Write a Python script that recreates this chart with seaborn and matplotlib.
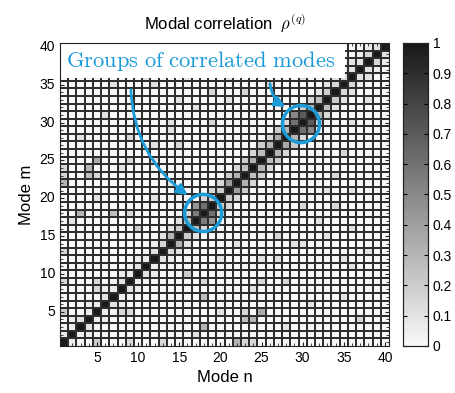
import numpy as np
import matplotlib
matplotlib.use("Agg")
import matplotlib.pyplot as plt
from matplotlib.colors import ListedColormap
from matplotlib.patches import Ellipse, Rectangle
import seaborn as sns

plt.rcParams['font.family'] = ['Liberation Sans', 'DejaVu Sans']
plt.rcParams['mathtext.fontset'] = 'cm'

# modes 1..40
n_modes = 40
diag_vals = [1.0] * n_modes

# correlation between neighbouring modes (k, k+1), k = 1..39
band1 = [0.05, 0.05, 0.10, 0.05, 0.05, 0.10, 0.05, 0.10, 0.05, 0.10,
         0.05, 0.10, 0.15, 0.30, 0.20, 0.25, 0.55, 0.60, 0.20, 0.20,
         0.40, 0.30, 0.25, 0.30, 0.25, 0.30, 0.35, 0.30, 0.60, 0.70,
         0.30, 0.25, 0.20, 0.15, 0.15, 0.10, 0.10, 0.15, 0.10]
# correlation (k, k+2), k = 1..38
band2 = [0.02, 0.05, 0.02, 0.05, 0.02, 0.05, 0.02, 0.05, 0.02, 0.05,
         0.02, 0.05, 0.10, 0.10, 0.10, 0.15, 0.45, 0.15, 0.15, 0.15,
         0.20, 0.15, 0.20, 0.15, 0.20, 0.15, 0.20, 0.15, 0.50, 0.20,
         0.15, 0.10, 0.10, 0.10, 0.05, 0.10, 0.05, 0.05]

# scattered pairs (n, m, rho)
pair_n = [1, 5, 5, 1, 5, 9, 10, 1, 5, 1, 1, 1, 9, 4, 4, 21, 3, 8, 18, 18,
          5, 24, 24, 8, 28, 37, 23, 26, 30, 33, 12, 14, 20, 22, 6, 2, 11, 35,
          27, 31, 16, 13, 25, 19, 34, 7, 36, 29, 32, 15]
pair_m = [22, 25, 23, 13, 20, 18, 16, 9, 9, 5, 23, 24, 25, 24, 23, 33, 28, 5, 7, 3,
          8, 4, 8, 24, 9, 4, 34, 35, 36, 38, 27, 30, 12, 14, 31, 17, 36, 12,
          15, 6, 36, 38, 12, 30, 19, 35, 21, 14, 17, 33]
pair_rho = [0.30, 0.35, 0.15, 0.15, 0.10, 0.15, 0.20, 0.15, 0.15, 0.20, 0.15, 0.15,
            0.15, 0.30, 0.25, 0.10, 0.10, 0.15, 0.25, 0.30, 0.15, 0.30, 0.30, 0.10,
            0.15, 0.15, 0.15, 0.15, 0.10, 0.10, 0.10, 0.10, 0.10, 0.10, 0.10, 0.10,
            0.10, 0.10, 0.15, 0.10, 0.10, 0.10, 0.10, 0.15, 0.15, 0.10, 0.10, 0.10,
            0.10, 0.10]
background = 0.015

tick_vals = [5, 10, 15, 20, 25, 30, 35, 40]
cbar_ticks = [0, 0.1, 0.2, 0.3, 0.4, 0.5, 0.6, 0.7, 0.8, 0.9, 1]

# build the symmetric matrix (row = m-1, col = n-1)
rho = np.full((n_modes, n_modes), background)
for k, v in enumerate(band1):
    rho[k, k + 1] = rho[k + 1, k] = v
for k, v in enumerate(band2):
    rho[k, k + 2] = rho[k + 2, k] = v
for n, m, v in zip(pair_n, pair_m, pair_rho):
    rho[m - 1, n - 1] = rho[n - 1, m - 1] = v
np.fill_diagonal(rho, diag_vals)

cmap = ListedColormap(plt.cm.gray(np.linspace(0.97, 0.1, 64)))

fig = plt.figure(figsize=(4.56, 3.93), dpi=100)
ax = fig.add_axes([0.1316, 0.1196, 0.7215, 0.771])
cax = fig.add_axes([0.8838, 0.1196, 0.0548, 0.771])

sns.heatmap(rho, cmap=cmap, vmin=0, vmax=1, linewidths=0,
            ax=ax, cbar_ax=cax, cbar_kws={'ticks': cbar_ticks})
ax.invert_yaxis()

# cell grid
edges = np.arange(1, n_modes)
ax.vlines(edges, 0, n_modes, colors='#2e2e2e', linewidth=1.45, zorder=2)
ax.hlines(edges, 0, n_modes, colors='#2e2e2e', linewidth=1.45, zorder=2)

ax.set_xticks([t - 0.5 for t in tick_vals])
ax.set_xticklabels([str(t) for t in tick_vals], rotation=0)
ax.set_yticks([t - 0.5 for t in tick_vals])
ax.set_yticklabels([str(t) for t in tick_vals], rotation=0)
ax.set_xticks(np.arange(n_modes) + 0.5, minor=True)
ax.set_yticks(np.arange(n_modes) + 0.5, minor=True)
ax.tick_params(which='both', direction='in', top=True, right=True, labelsize=10,
               color='#222222')
ax.tick_params(which='major', length=3)
ax.tick_params(which='minor', length=2)
for s in ax.spines.values():
    s.set_visible(True)
    s.set_color('#222222')
    s.set_linewidth(0.8)
    s.set_zorder(5)

ax.set_xlabel('Mode n', fontsize=12)
ax.set_ylabel('Mode m', fontsize=12)
ax.set_title(r'Modal correlation  $\rho^{(q)}$', fontsize=12, pad=10)

cax.tick_params(direction='in', length=3, labelsize=10, left=True, right=True)
cax.set_yticklabels(['0', '0.1', '0.2', '0.3', '0.4', '0.5', '0.6', '0.7',
                     '0.8', '0.9', '1'])
for s in cax.spines.values():
    s.set_visible(True)
    s.set_color('#222222')
    s.set_linewidth(0.8)

blue = '#1b9bd7'
ax.add_patch(Rectangle((0, 35.4), 34.7, 4.6, facecolor='white', edgecolor='none',
                       zorder=3, clip_on=False))
ax.text(0.7, 37.6, r'$\mathrm{Groups\ of\ correlated\ modes}$', color=blue,
        fontsize=16.2, va='center', ha='left', zorder=4)

for cx, cy in [(17.4, 17.56), (29.3, 29.3)]:
    ax.add_patch(Ellipse((cx, cy), 4.5, 4.9, fill=False, edgecolor=blue,
                         linewidth=2.5, zorder=4))

ax.annotate('', xy=(15.8, 19.7), xytext=(8.6, 34.2),
            arrowprops=dict(arrowstyle='-|>', color=blue, lw=2,
                            mutation_scale=16,
                            connectionstyle='arc3,rad=0.25'), zorder=4)
ax.annotate('', xy=(27.7, 31.4), xytext=(25.5, 35.0),
            arrowprops=dict(arrowstyle='-|>', color=blue, lw=2,
                            mutation_scale=16,
                            connectionstyle='arc3,rad=0.3'), zorder=4)

fig.savefig('out.png', dpi=100)
